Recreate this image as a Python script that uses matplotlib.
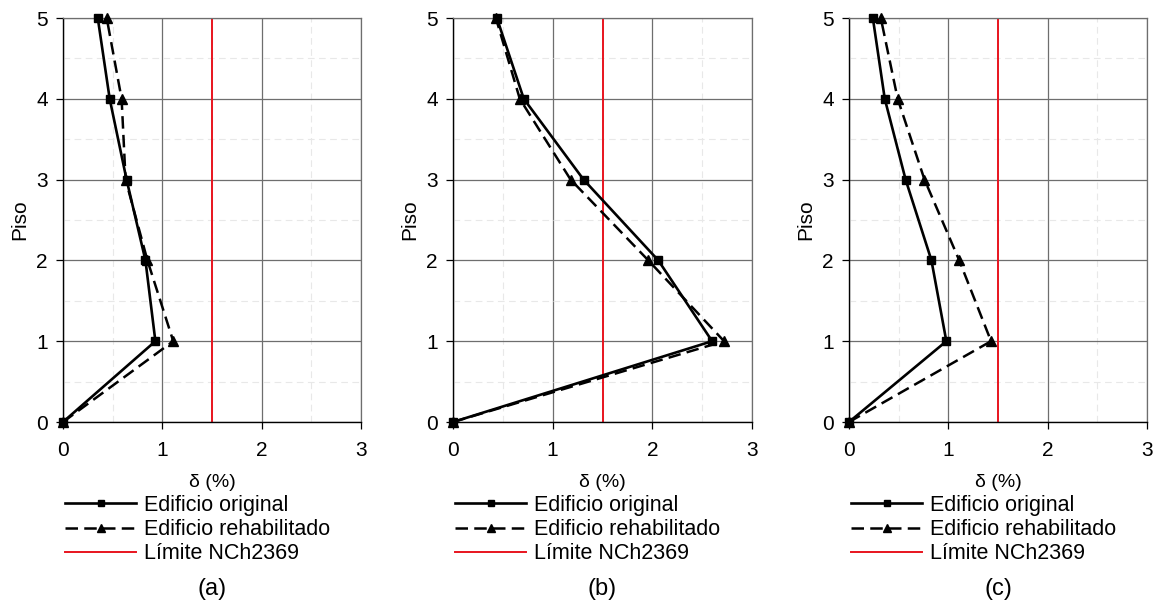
import matplotlib
matplotlib.use("Agg")
import matplotlib.pyplot as plt
import numpy as np

plt.rcParams['font.family'] = ['Liberation Sans', 'DejaVu Sans']

pisos = [0, 1, 2, 3, 4, 5]

original_a = [0.0, 0.93, 0.83, 0.64, 0.47, 0.35]
rehab_a = [0.0, 1.11, 0.85, 0.63, 0.59, 0.44]

original_b = [0.0, 2.60, 2.06, 1.31, 0.71, 0.44]
rehab_b = [0.0, 2.72, 1.96, 1.18, 0.67, 0.43]

original_c = [0.0, 0.98, 0.83, 0.57, 0.36, 0.24]
rehab_c = [0.0, 1.43, 1.11, 0.76, 0.49, 0.32]

limite = 1.5
paneles = ["(a)", "(b)", "(c)"]
x_ticks = [0, 1, 2, 3]
y_ticks = [0, 1, 2, 3, 4, 5]

W, H = 1157, 602
fig = plt.figure(figsize=(W / 100, H / 100), dpi=100)

# axes boxes in pixels: (left, right)
boxes = [(63, 361), (453, 752), (849, 1147)]
top_px, bot_px = 18, 422

series = [(original_a, rehab_a), (original_b, rehab_b), (original_c, rehab_c)]
fs = 15

for (l, r), (orig, reh), cap in zip(boxes, series, paneles):
    ax = fig.add_axes([l / W, 1 - bot_px / H, (r - l) / W, (bot_px - top_px) / H])
    ax.set_xlim(0, 3)
    ax.set_ylim(0, 5)
    ax.set_xticks(x_ticks)
    ax.set_yticks(y_ticks)
    ax.set_xticks(np.arange(0.5, 3, 1.0), minor=True)
    ax.set_yticks(np.arange(0.5, 5, 1.0), minor=True)
    ax.grid(which='major', color='#6e6e6e', linewidth=0.9)
    ax.grid(which='minor', color='#e8e8e8', linewidth=0.8, linestyle=(0, (6, 4)))
    ax.set_axisbelow(True)
    ax.tick_params(which='minor', length=0)
    ax.tick_params(which='major', direction='out', length=5, width=0.9,
                   labelsize=fs, colors='black')
    ax.tick_params(axis='x', pad=9)
    ax.tick_params(axis='y', pad=6)
    for s in ['top', 'right']:
        ax.spines[s].set_color('#6e6e6e')
        ax.spines[s].set_linewidth(0.9)
    for s in ['left', 'bottom']:
        ax.spines[s].set_color('black')
        ax.spines[s].set_linewidth(1.0)

    h_lim = ax.axvline(limite, color='#e8141e', linewidth=1.4, zorder=2)
    h_reh, = ax.plot(reh, pisos, color='black', linestyle=(0, (5, 2.5)), linewidth=1.8,
                     marker='^', markersize=7, zorder=3, clip_on=False)
    h_org, = ax.plot(orig, pisos, color='black', linestyle='-', linewidth=1.9,
                     marker='s', markersize=5.5, zorder=4, clip_on=False)

    ax.set_ylabel("Piso", fontsize=fs, labelpad=5)
    ax.set_xlabel("δ (%)", fontsize=fs - 1, labelpad=10)

    leg = ax.legend([h_org, h_reh, h_lim],
                    ["Edificio original", "Edificio rehabilitado", "Límite NCh2369"],
                    loc='upper left', bbox_to_anchor=((l + 2) / W, 1 - 495 / H),
                    bbox_transform=fig.transFigure, frameon=False, fontsize=fs + 0.5,
                    handlelength=3.3, handletextpad=0.35, labelspacing=0.15,
                    borderpad=0, borderaxespad=0, markerscale=0.85)

    fig.text((l + r) / 2 / W - 0.0, 1 - 589 / H, cap, ha='center', va='center',
             fontsize=fs + 2)

fig.savefig("out.png", dpi=100)
